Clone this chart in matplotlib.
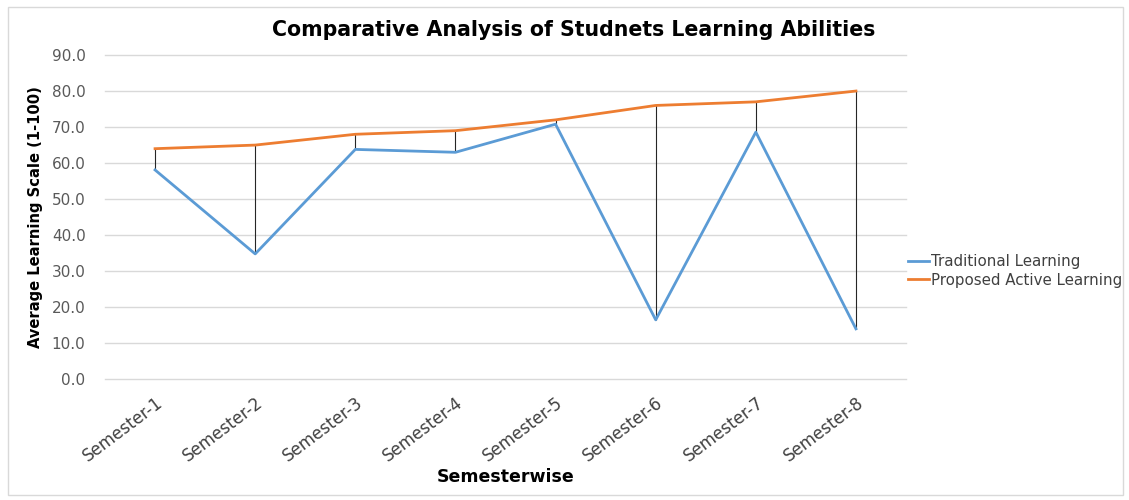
import matplotlib.pyplot as plt
from matplotlib.patches import Rectangle

semesters = ["Semester-1", "Semester-2", "Semester-3", "Semester-4",
             "Semester-5", "Semester-6", "Semester-7", "Semester-8"]
traditional = [58.1, 34.8, 63.8, 63.0, 70.8, 16.5, 68.6, 14.0]
active = [64.0, 65.0, 68.0, 69.0, 72.0, 76.0, 77.0, 80.0]

fig = plt.figure(figsize=(11.29, 5.0), dpi=100)
ax = fig.add_axes([0.093, 0.2414, 0.7095, 0.6486])

x = list(range(len(semesters)))

# high-low lines between the two series
lo = [min(a, b) for a, b in zip(traditional, active)]
hi = [max(a, b) for a, b in zip(traditional, active)]
ax.vlines(x, lo, hi, color="#262626", linewidth=0.8, zorder=2)

ax.plot(x, traditional, color="#5B9BD5", linewidth=2.0, label="Traditional Learning", zorder=3)
ax.plot(x, active, color="#ED7D31", linewidth=2.0, label="Proposed Active Learning", zorder=3)

ax.set_xlim(-0.5, len(semesters) - 0.5)
ax.set_ylim(0, 90)
ax.set_yticks(range(0, 91, 10))
ax.set_yticklabels([f"{v:.1f}" for v in range(0, 91, 10)], fontsize=11, color="#595959")
ax.set_xticks(x)
ax.set_xticklabels(semesters, rotation=37, ha="right", rotation_mode="anchor",
                   fontsize=12, color="#404040")
ax.tick_params(length=0)
ax.tick_params(axis="x", pad=10)
ax.tick_params(axis="y", pad=14)

ax.grid(axis="y", color="#d9d9d9", linewidth=1.0)
for gl in ax.get_ygridlines():
    gl.set_clip_on(False)
ax.set_axisbelow(True)
for s in ax.spines.values():
    s.set_visible(False)

ax.set_ylabel("Average Learning Scale (1-100)", fontsize=11.8, fontweight="bold",
              fontstretch="condensed", labelpad=6)
ax.set_xlabel("Semesterwise", fontsize=12.5, fontweight="bold", labelpad=2)
fig.text(0.508, 0.94, "Comparative Analysis of Studnets Learning Abilities",
         ha="center", va="center", fontsize=14.8, fontweight="bold")

ax.legend(loc="center left", bbox_to_anchor=(0.995, 0.335), frameon=False,
          fontsize=10.8, handlelength=1.4, handletextpad=0.1, labelspacing=0.25,
          borderaxespad=0.0, labelcolor="#404040")

fig.patches.append(Rectangle((0.007, 0.01), 0.988, 0.976, transform=fig.transFigure,
                             fill=False, edgecolor="#d9d9d9", linewidth=1.0))

fig.savefig("out.png", dpi=100)
